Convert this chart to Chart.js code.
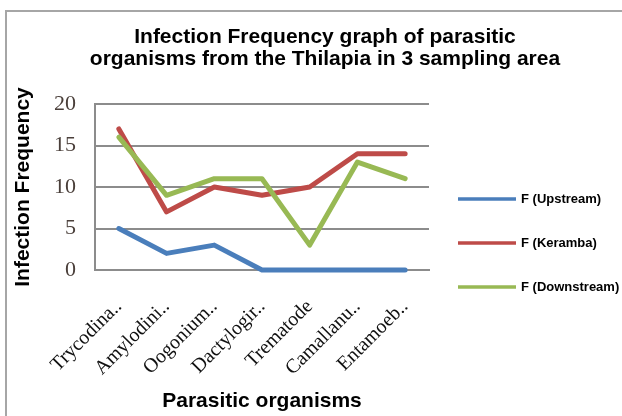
<!DOCTYPE html>
<html>
<head>
<meta charset="utf-8">
<script src="https://cdn.jsdelivr.net/npm/chart.js@4"></script>
<style>
  html, body { margin: 0; padding: 0; background: #fff; }
  #wrap { width: 622px; height: 416px; }
</style>
</head>
<body>
<div id="wrap"><canvas id="chart" width="622" height="416"></canvas></div>
<script>
// Data
const organisms = ['Trycodina..', 'Amylodini..', 'Oogonium..', 'Dactylogir..', 'Trematode', 'Camallanu..', 'Entamoeb..'];
const upstream = [5, 2, 3, 0, 0, 0, 0];
const keramba = [17, 7, 10, 9, 10, 14, 14];
const downstream = [16, 9, 11, 11, 3, 13, 11];
const seriesNames = ['F (Upstream)', 'F (Keramba)', 'F (Downstream)'];
const seriesColors = ['#4a7ebb', '#be4b48', '#98b954'];
const titleLines = ['Infection Frequency graph of parasitic', 'organisms from the Thilapia in 3 sampling area'];

const sans = '"Liberation Sans", Arial, sans-serif';
const serif = '"Liberation Serif", "Times New Roman", serif';

// Frame, title and legend drawn by hand
const decorPlugin = {
    id: 'decor',
    beforeDraw(chart) {
        const ctx = chart.ctx;
        ctx.save();
        ctx.fillStyle = '#fff';
        ctx.fillRect(0, 0, chart.width, chart.height);
        ctx.strokeStyle = '#a6a6a6';
        ctx.lineWidth = 2;
        ctx.beginPath();
        ctx.moveTo(6, 420);
        ctx.lineTo(6, 11);
        ctx.lineTo(630, 11);
        ctx.stroke();
        ctx.restore();
    },
    afterDraw(chart) {
        const ctx = chart.ctx;
        ctx.save();
        // title
        ctx.fillStyle = '#000';
        ctx.font = 'bold 21px ' + sans;
        ctx.textAlign = 'center';
        ctx.textBaseline = 'alphabetic';
        ctx.fillText(titleLines[0], 325, 43);
        ctx.fillText(titleLines[1], 325, 65);
        // legend
        ctx.font = 'bold 13px ' + sans;
        ctx.textAlign = 'left';
        ctx.textBaseline = 'middle';
        seriesNames.forEach((name, i) => {
            const y = 199 + i * 44;
            ctx.strokeStyle = seriesColors[i];
            ctx.lineWidth = 3.5;
            ctx.beginPath();
            ctx.moveTo(458, y);
            ctx.lineTo(516, y);
            ctx.stroke();
            ctx.fillStyle = '#000';
            ctx.fillText(name, 521, y);
        });
        ctx.restore();
    }
};

const ctx = document.getElementById('chart').getContext('2d');
const chart = new Chart(ctx, {
    type: 'line',
    data: {
        labels: organisms,
        datasets: [
            { label: seriesNames[0], data: upstream, borderColor: seriesColors[0], order: 3 },
            { label: seriesNames[1], data: keramba, borderColor: seriesColors[1], order: 2 },
            { label: seriesNames[2], data: downstream, borderColor: seriesColors[2], order: 1 },
        ],
    },
    options: {
        responsive: false,
        animation: false,
        devicePixelRatio: 1,
        layout: { padding: { top: 104, right: 193, bottom: 0, left: 0 } },
        elements: {
            line: { borderWidth: 5, tension: 0, borderCapStyle: 'round', borderJoinStyle: 'round' },
            point: { radius: 0, hoverRadius: 0 },
        },
        datasets: { line: { clip: false } },
        plugins: {
            legend: { display: false },
            title: { display: false },
            tooltip: { enabled: false },
        },
        scales: {
            x: {
                offset: true,
                grid: { display: false, drawTicks: false },
                border: { color: '#8c8c8c', width: 2 },
                ticks: {
                    autoSkip: false,
                    minRotation: 45,
                    maxRotation: 45,
                    padding: 25,
                    color: '#111',
                    font: { family: serif, size: 20 },
                },
                title: {
                    display: true,
                    text: 'Parasitic organisms',
                    color: '#000',
                    font: { family: sans, size: 21, weight: 'bold' },
                    padding: { top: 0, bottom: 2 },
                },
                afterFit(scale) { scale.height = 146; },
            },
            y: {
                min: 0,
                max: 20,
                ticks: {
                    stepSize: 5,
                    padding: 19,
                    color: '#4a3f3a',
                    font: { family: serif, size: 22 },
                },
                grid: { color: '#8c8c8c', lineWidth: 2, drawTicks: false },
                border: { color: '#8c8c8c', width: 2 },
                title: {
                    display: true,
                    text: 'Infection Frequency',
                    color: '#000',
                    font: { family: sans, size: 21, weight: 'bold' },
                    padding: { top: 11, bottom: 0 },
                },
                afterFit(scale) { scale.width = 95; },
            },
        },
    },
    plugins: [decorPlugin],
});
</script>
</body>
</html>
